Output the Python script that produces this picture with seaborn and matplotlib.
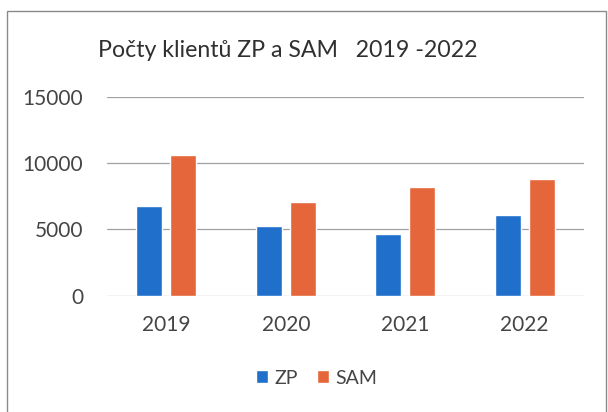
import matplotlib
matplotlib.use("Agg")
import matplotlib.pyplot as plt
import seaborn as sns
import pandas as pd
from matplotlib.patches import Rectangle

years = ["2019", "2020", "2021", "2022"]
zp = [6780, 5250, 4670, 6080]
sam = [10600, 7060, 8170, 8830]
series = ["ZP", "SAM"]
y_ticks = [0, 5000, 10000, 15000]
title = "Počty klientů ZP a SAM   2019 -2022"

df = pd.DataFrame({
    "year": years * 2,
    "value": zp + sam,
    "series": [series[0]] * len(years) + [series[1]] * len(years),
})

sns.set_theme(style="white")
plt.rcParams['font.family'] = ['Lato', 'DejaVu Sans']

fig = plt.figure(figsize=(6.08, 4.12), dpi=100)
ax = fig.add_axes([106.7 / 608, (412 - 295.7) / 412, 477.6 / 608, (295.7 - 96.7) / 412])
sns.barplot(data=df, x="year", y="value", hue="series", hue_order=series,
            palette=["#1f6fcb", "#e5663a"], width=0.57, gap=0.235,
            saturation=1, ax=ax)
ax.set_ylim(0, 15000)
ax.set_xlim(-0.5, 3.5)
ax.set_yticks(y_ticks)
ax.set_yticklabels([str(t) for t in y_ticks])
ax.set_xlabel("")
ax.set_ylabel("")
ax.yaxis.grid(True, color="#a0a0a0", lw=0.9)
ax.set_axisbelow(True)
for s in ax.spines.values():
    s.set_visible(False)
ax.tick_params(axis='both', length=0, labelsize=15, labelcolor="#454545")
ax.tick_params(axis='y', pad=17)
ax.tick_params(axis='x', pad=14)

handles, labels = ax.get_legend_handles_labels()
ax.legend(handles, labels, loc="center", bbox_to_anchor=(0.521, 0.0825),
          bbox_transform=fig.transFigure, ncol=2, frameon=False, fontsize=14,
          handlelength=0.6, handleheight=0.6, handletextpad=0.35,
          columnspacing=1.0, labelcolor="#454545")

fig.text(98 / 608, (412 - 56.7) / 412, title, ha="left", va="baseline",
         fontsize=16.7, color="#303030")

fig.patches.append(Rectangle((7 / 608, -0.05), (606 - 7) / 608, (412 - 11) / 412 + 0.05,
                             transform=fig.transFigure, fill=False,
                             ec="#8a8a8a", lw=1))

fig.savefig("out.png", dpi=100)
